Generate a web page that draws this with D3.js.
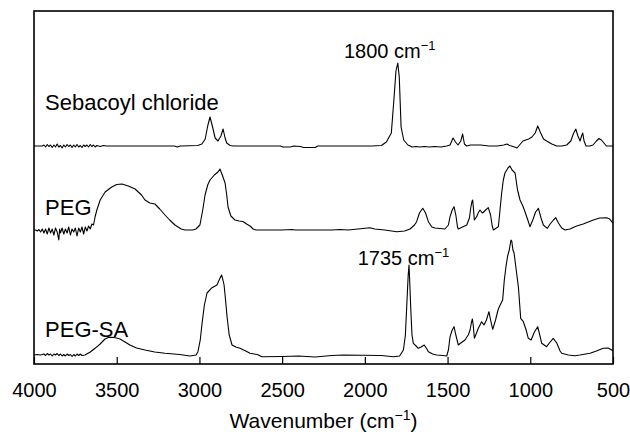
<!DOCTYPE html>
<html>
<head>
<meta charset="utf-8">
<script src="https://cdn.jsdelivr.net/npm/d3@7"></script>
<style>
  html, body { margin: 0; padding: 0; background: #fff; }
  svg { display: block; font-family: "Liberation Sans", Arial, Helvetica, sans-serif; }
</style>
</head>
<body>
<svg id="chart" width="630" height="436"></svg>
<script>
// ---- data ----
const seriesNames = ["Sebacoyl chloride", "PEG", "PEG-SA"];
const seriesOffsets = [2.18, 1.34, 0.09];
const xTicks = [4000, 3500, 3000, 2500, 2000, 1500, 1000, 500];
const peakLabels = [
  { series: 0, wavenumber: 1800, text: "1800 cm" },
  { series: 2, wavenumber: 1735, text: "1735 cm" }
];

const sebacoyl = [
  [4000,0],[3950,0],[3940,0.01],[3930,-0.01],[3920,0.015],[3910,-0.005],[3900,0.01],[3890,-0.015],[3880,0.01],[3870,-0.01],
  [3860,0.02],[3850,-0.01],[3840,0.005],[3830,-0.02],[3820,0.01],[3810,-0.01],[3800,0.015],[3790,-0.005],[3780,0.01],[3770,-0.015],
  [3760,0.01],[3750,-0.01],[3740,0.015],[3730,-0.01],[3720,0.005],[3710,-0.015],[3700,0.01],[3690,-0.005],[3680,0.01],[3670,-0.01],
  [3660,0.015],[3650,-0.005],[3640,0.01],[3630,-0.01],[3620,0.005],[3600,-0.005],[3580,0.005],[3560,0],[3540,0],
  [3150,0],[3135,-0.01],[3115,0],[3010,0.005],[2985,0.02],[2965,0.07],[2950,0.2],[2936,0.29],[2922,0.2],[2905,0.08],
  [2888,0.05],[2870,0.1],[2857,0.17],[2845,0.08],[2835,0.03],[2815,0.005],[2795,0],
  [2510,0],[2495,-0.01],[2450,-0.01],[2430,0],[2390,-0.005],[2370,-0.015],[2300,-0.015],[2285,0],
  [1960,0],[1900,0.005],[1870,0.04],[1840,0.13],[1825,0.45],[1812,0.75],[1801,0.83],[1792,0.69],[1781,0.19],[1765,0.06],
  [1740,0.01],[1725,0],[1715,-0.01],[1690,-0.005],[1670,-0.01],[1640,-0.005],[1610,-0.01],[1580,-0.005],[1540,-0.01],[1505,0],
  [1485,0.01],[1467,0.08],[1452,0.04],[1437,0.01],[1420,0.05],[1409,0.12],[1398,0.02],[1385,0],[1360,0.01],[1300,0.01],
  [1250,0],[1200,0],[1160,0.01],[1141,0.02],[1125,0.005],[1095,-0.01],[1080,-0.02],[1065,0.01],[1044,0.05],[1010,0.07],
  [990,0.09],[970,0.13],[955,0.2],[940,0.14],[920,0.07],[901,0.05],[870,0.02],[840,0],[810,0],[780,0.01],
  [755,0.05],[740,0.12],[725,0.17],[712,0.1],[699,0.05],[690,0.1],[683,0.13],[675,0.05],[663,0],[640,0],
  [621,0.01],[600,0.05],[585,0.075],[570,0.06],[555,0.03],[540,0],[500,0]
];

const peg = [
  [4000,0],[3990,0],[3980,-0.01],[3970,0.005],[3960,-0.02],[3950,0.01],[3940,-0.03],[3930,0.01],[3920,-0.04],[3910,0.02],
  [3900,-0.03],[3890,0.01],[3880,-0.05],[3870,0.02],[3860,-0.02],[3850,-0.1],[3845,0.01],[3840,-0.03],[3830,0.02],[3820,-0.04],
  [3810,0.01],[3800,-0.03],[3790,0.03],[3780,-0.05],[3770,0.01],[3760,-0.02],[3750,0.02],[3740,-0.06],[3730,0.02],[3720,-0.02],
  [3710,0.03],[3700,-0.04],[3690,0.03],[3680,-0.01],[3670,0.04],[3660,0.01],[3650,0.06],[3640,0.05],[3631,0.13],[3620,0.2],
  [3600,0.3],[3570,0.38],[3530,0.43],[3500,0.455],[3468,0.46],[3430,0.44],[3389,0.41],[3350,0.35],[3329,0.3],[3300,0.27],
  [3269,0.26],[3240,0.21],[3208,0.15],[3180,0.1],[3148,0.05],[3110,0.01],[3087,0],[3040,0],[3021,0.01],[2997,0.05],
  [2980,0.2],[2966,0.35],[2950,0.45],[2936,0.5],[2910,0.55],[2888,0.58],[2876,0.61],[2862,0.55],[2845,0.47],[2835,0.35],
  [2827,0.23],[2810,0.14],[2785,0.1],[2760,0.09],[2737,0.085],[2715,0.06],[2694,0.04],[2675,0.01],[2658,0],[2500,0],
  [2440,0.005],[2420,0],[2200,0],[2150,0.005],[2100,0],[1969,0.023],[1940,0.01],[1880,0],[1807,-0.017],[1760,-0.01],
  [1727,0.01],[1700,0.05],[1687,0.083],[1670,0.17],[1650,0.217],[1633,0.17],[1616,0.083],[1595,0.03],[1576,0.02],[1516,0.01],
  [1495,0.05],[1485,0.133],[1472,0.2],[1461,0.233],[1450,0.15],[1440,0.03],[1435,0.01],[1410,0.03],[1384,0.05],[1368,0.12],
  [1360,0.22],[1352,0.29],[1348,0.3],[1343,0.2],[1338,0.1],[1330,0.12],[1324,0.133],[1315,0.17],[1304,0.2],[1295,0.18],
  [1288,0.17],[1270,0.2],[1254,0.223],[1240,0.15],[1230,0.04],[1223,0],[1205,0.02],[1193,0.033],[1183,0.2],[1173,0.37],
  [1163,0.5],[1153,0.57],[1135,0.62],[1123,0.64],[1110,0.6],[1092,0.57],[1077,0.4],[1062,0.3],[1045,0.24],[1032,0.183],
  [1015,0.1],[1002,0.033],[985,0.1],[968,0.18],[951,0.217],[935,0.12],[921,0.05],[897,0.017],[880,0.06],[860,0.1],
  [846,0.123],[830,0.07],[810,0.02],[790,0],[760,0.01],[720,0.04],[680,0.06],[619,0.1],[580,0.12],[538,0.123],
  [520,0.11],[508,0.083],[500,0.07]
];

const pegSA = [
  [4000,0],[3980,0.005],[3960,0],[3940,0.01],[3930,-0.005],[3920,0.015],[3910,0],[3900,0.01],[3890,-0.01],[3880,0.01],
  [3870,0],[3860,0.015],[3850,-0.005],[3840,0.01],[3830,-0.01],[3820,0.005],[3810,-0.01],[3800,0.01],[3790,-0.005],[3780,0.005],
  [3770,-0.015],[3760,0.005],[3750,-0.01],[3740,0.01],[3730,-0.005],[3720,0.01],[3710,-0.005],[3692,0],[3660,0.03],[3631,0.067],
  [3600,0.11],[3571,0.16],[3550,0.175],[3529,0.177],[3500,0.17],[3480,0.16],[3450,0.13],[3420,0.1],[3380,0.07],[3329,0.05],
  [3270,0.03],[3208,0.017],[3120,0.005],[3057,-0.01],[3020,0],[3009,0.033],[2995,0.15],[2984,0.317],[2970,0.5],[2954,0.62],
  [2924,0.673],[2894,0.7],[2876,0.767],[2866,0.8],[2858,0.75],[2851,0.7],[2842,0.55],[2833,0.383],[2820,0.2],[2803,0.1],
  [2780,0.08],[2755,0.067],[2720,0.04],[2694,0.017],[2650,0.005],[2622,-0.017],[2500,-0.015],[2400,-0.01],[2300,-0.02],[2200,-0.005],
  [2130,0],[1900,-0.005],[1828,-0.017],[1790,-0.01],[1767,0.05],[1755,0.2],[1747,0.483],[1738,0.8],[1733,0.9],[1728,0.7],
  [1723,0.483],[1715,0.2],[1707,0.117],[1690,0.09],[1677,0.067],[1660,0.08],[1641,0.1],[1625,0.06],[1616,0.033],[1590,0.01],
  [1566,0],[1530,-0.005],[1505,-0.01],[1495,0.05],[1485,0.183],[1472,0.25],[1461,0.283],[1450,0.2],[1435,0.1],[1420,0.12],
  [1395,0.15],[1375,0.2],[1364,0.25],[1355,0.33],[1350,0.36],[1345,0.3],[1338,0.167],[1325,0.22],[1314,0.267],[1294,0.333],
  [1280,0.3],[1265,0.35],[1250,0.433],[1240,0.35],[1227,0.257],[1210,0.35],[1195,0.45],[1187,0.483],[1167,0.55],[1157,0.75],
  [1147,0.883],[1137,0.99],[1127,1.05],[1117,1.15],[1112,1.14],[1105,1.05],[1098,1.02],[1085,0.85],[1072,0.683],[1058,0.367],
  [1042,0.333],[1025,0.25],[1012,0.167],[995,0.15],[975,0.23],[955,0.283],[940,0.18],[931,0.117],[901,0.083],[880,0.13],
  [861,0.167],[840,0.12],[820,0.04],[810,0.017],[770,0],[730,-0.007],[700,0],[639,0.017],[600,0.04],[559,0.067],
  [530,0.07],[508,0.05],[500,0.04]
];

const spectra = [sebacoyl, peg, pegSA];

// ---- layout ----
const svg = d3.select("#chart");
const margin = { left: 34, right: 17, top: 11, bottom: 72 };
const W = 630, H = 436;
const x = d3.scaleLinear().domain([4000, 500]).range([margin.left, W - margin.right]);
const y = d3.scaleLinear().domain([0, 3.53]).range([H - margin.bottom, margin.top]);

const line = d3.line()
  .x(d => x(d[0]))
  .y(d => y(d[1]));

spectra.forEach((s, i) => {
  svg.append("path")
    .datum(s.map(d => [d[0], d[1] + seriesOffsets[i]]))
    .attr("fill", "none")
    .attr("stroke", "#000")
    .attr("stroke-width", 1.1)
    .attr("stroke-linejoin", "round")
    .attr("d", line);
});

// frame
svg.append("rect")
  .attr("x", x(4000)).attr("y", y(3.53))
  .attr("width", x(500) - x(4000)).attr("height", y(0) - y(3.53))
  .attr("fill", "none").attr("stroke", "#000").attr("stroke-width", 1.6);

// bottom axis, ticks inward
const axis = d3.axisBottom(x).tickValues(xTicks).tickSize(-7).tickPadding(19).tickFormat(d3.format("d"));
const gx = svg.append("g").attr("transform", `translate(0,${y(0)})`).call(axis);
gx.select(".domain").remove();
gx.selectAll(".tick line").attr("stroke", "#000").attr("stroke-width", 1.2);
gx.selectAll(".tick text")
  .attr("fill", "#000")
  .style("font-size", "20px")
  .style("font-family", "'Liberation Sans', Arial, sans-serif");

// axis title
const title = svg.append("text")
  .attr("x", (x(4000) + x(500)) / 2)
  .attr("y", 428)
  .attr("text-anchor", "middle")
  .style("font-size", "21px");
title.append("tspan").text("Wavenumber (cm");
title.append("tspan").attr("dy", -8).style("font-size", "14px").text("\u22121");
title.append("tspan").attr("dy", 8).text(")");

// series labels
const labelLift = [0.36, 0.15, 0.18];
seriesNames.forEach((n, i) => {
  svg.append("text")
    .attr("x", x(3933))
    .attr("y", y(seriesOffsets[i] + labelLift[i]))
    .style("font-size", "22px")
    .text(n);
});

// peak annotations
const annShift = [-54, -51];
const annLift = [0.85, 0.9];
peakLabels.forEach((p, k) => {
  const t = svg.append("text")
    .attr("x", x(p.wavenumber) + annShift[k])
    .attr("y", y(seriesOffsets[p.series] + annLift[k]) - 3 + (k === 1 ? 3 : 0))
    .style("font-size", "20px");
  t.append("tspan").text(p.text);
  t.append("tspan").attr("dy", -8).style("font-size", "13px").text("\u22121");
});
</script>
</body>
</html>
